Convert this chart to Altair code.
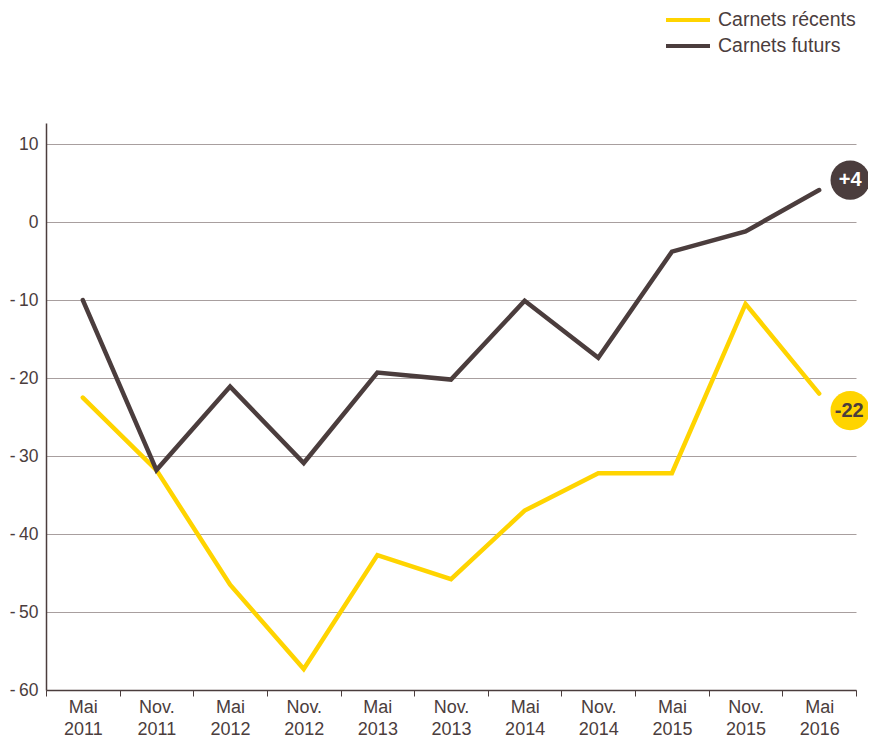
import altair as alt
import pandas as pd

periods = ["Mai 2011", "Nov. 2011", "Mai 2012", "Nov. 2012", "Mai 2013", "Nov. 2013",
           "Mai 2014", "Nov. 2014", "Mai 2015", "Nov. 2015", "Mai 2016"]
recents = [-22.5, -31.8, -46.5, -57.3, -42.7, -45.8, -37.0, -32.2, -32.2, -10.5, -22.0]
futurs = [-10.0, -31.8, -21.1, -30.9, -19.3, -20.2, -10.1, -17.4, -3.8, -1.2, 4.1]
series_names = ["Carnets récents", "Carnets futurs"]
colors = ["#FFD400", "#4B3D3D"]
end_labels = {"Carnets récents": "-22", "Carnets futurs": "+4"}
y_ticks = [-60, -50, -40, -30, -20, -10, 0, 10]

rows = []
for p, r, f in zip(periods, recents, futurs):
    rows.append({"period": p, "series": series_names[0], "value": r})
    rows.append({"period": p, "series": series_names[1], "value": f})
df = pd.DataFrame(rows)
df["label"] = df["series"].map(end_labels)

FONT = "Liberation Sans"
DARK = "#4B3D3D"

x = alt.X("period:N", sort=periods,
          scale=alt.Scale(type="band", paddingInner=0, paddingOuter=0),
          axis=alt.Axis(title=None, labelAngle=0, labelExpr="split(datum.label, ' ')",
                        tickBand="extent", tickSize=6, tickColor=DARK, domainColor=DARK,
                        domainWidth=1.5, labelFontSize=18, labelColor=DARK, labelFont=FONT,
                        labelLineHeight=22, labelPadding=2, grid=False))
y = alt.Y("value:Q", scale=alt.Scale(domain=[-60, 12.7], nice=False, zero=False),
          axis=alt.Axis(title=None, values=y_ticks, ticks=False, labelPadding=8,
                        labelExpr="datum.value < 0 ? '-\u2009' + abs(datum.value) : '' + datum.value",
                        labelFontSize=17.5, labelColor=DARK, labelFont=FONT,
                        domainColor=DARK, domainWidth=1.5, gridColor="#A89F9F",
                        gridWidth=1))
color = alt.Color("series:N", sort=series_names,
                  scale=alt.Scale(domain=series_names, range=colors),
                  legend=alt.Legend(orient="none", legendX=640, legendY=-116, title=None,
                                    symbolType="M-3,0H1", symbolSize=484,
                                    symbolStrokeWidth=4, labelFontSize=19.5,
                                    labelColor=DARK, labelFont=FONT, labelOffset=6,
                                    rowPadding=3))

lines = alt.Chart(df).mark_line(strokeWidth=4.5, strokeCap="round", strokeJoin="miter").encode(
    x=x, y=y, color=color, order=alt.Order("series:N"))

last = alt.Chart(df).transform_filter(alt.datum.period == periods[-1])

circ_f = last.transform_filter(alt.datum.series == series_names[1]).mark_circle(
    size=1550, opacity=1, color=colors[1], xOffset=31, yOffset=-10).encode(x=x, y=y)
text_f = last.transform_filter(alt.datum.series == series_names[1]).mark_text(
    color="white", fontSize=20, fontWeight="bold", font=FONT, xOffset=31, yOffset=-10).encode(
    x=x, y=y, text="label:N")
circ_r = last.transform_filter(alt.datum.series == series_names[0]).mark_circle(
    size=1550, opacity=1, color=colors[0], xOffset=31, yOffset=17).encode(x=x, y=y)
text_r = last.transform_filter(alt.datum.series == series_names[0]).mark_text(
    color=DARK, fontSize=20, fontWeight="bold", font=FONT, xOffset=30, yOffset=17).encode(
    x=x, y=y, text="label:N")

chart = alt.layer(lines, circ_f, text_f, circ_r, text_r).properties(
    width=810, height=567,
    autosize=alt.AutoSizeParams(type="none"),
    padding={"left": 38, "top": 115, "right": 12, "bottom": 56},
    view=alt.ViewBackground(stroke="transparent", strokeOpacity=0, strokeWidth=0),
).configure_view(stroke="transparent", strokeOpacity=0, strokeWidth=0).configure(font=FONT)

chart.save("out.html", embed_options={"renderer": "svg", "actions": False})
